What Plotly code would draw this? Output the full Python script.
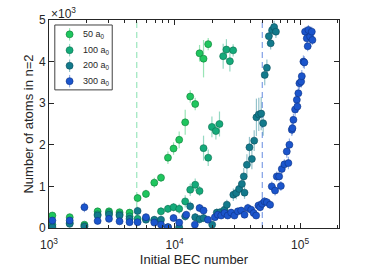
import plotly.graph_objects as go

# ---------------- data (values in units of 10^3 atoms) ----------------
n50 = [1064, 1462, 1915, 2439, 3005, 3648, 4383, 5078, 5919, 6897, 7799, 8860, 9818,
       10890, 12160, 13330, 14610, 15820, 17020, 18540]
v50 = [0.30, 0.26, 0.08, 0.40, 0.40, 0.38, 0.37, 0.72, 0.82, 1.09, 1.21, 1.69, 1.91,
       2.12, 2.54, 3.16, 2.98, 4.20, 4.07, 4.42]
e50 = [0.08, 0.08, 0.06, 0.08, 0.08, 0.08, 0.08, 0.10, 0.10, 0.12, 0.10, 0.15, 0.15,
       0.20, 0.30, 0.15, 0.15, 0.20, 0.45, 0.15]

n100 = [1064, 1462, 1915, 2439, 3005, 3648, 4383, 5078, 5919, 6897, 7799, 8860, 9818,
        10890, 12160, 13330, 14610, 15820, 17020, 18540, 19850, 21350, 22800, 24400,
        25900, 27600, 29300]
v100 = [0.08, 0.12, 0.05, 0.33, 0.36, 0.33, 0.28, 0.22, 0.22, 0.18, 0.40, 0.46, 0.50,
        0.46, 0.64, 0.92, 1.04, 0.89, 1.92, 1.69, 2.43, 2.33, 2.50, 4.13, 4.29, 4.01, 4.27]
e100 = [0.06, 0.08, 0.05, 0.08, 0.08, 0.08, 0.08, 0.08, 0.08, 0.08, 0.10, 0.10, 0.10,
        0.12, 0.15, 0.15, 0.15, 0.12, 0.30, 0.20, 0.25, 0.20, 0.30, 0.30, 0.25, 0.25, 0.15]

n200 = [1064, 1462, 1915, 2439, 3005, 3648, 4383, 5078, 5919, 6897, 7799, 8860, 10890,
        12160, 13330, 14610, 15820, 17020, 19950, 21700, 23100, 25000, 26100, 29400,
        31000, 32700, 34400, 35600, 36100, 37700, 39500, 41300, 43100, 44900, 46900,
        49000, 50800, 52300, 54400, 56400, 58300, 59900, 62100, 64200]
v200 = [0.02, 0.10, 0.03, 0.30, 0.32, 0.30, 0.22, 0.41, 0.20, 0.20, 0.20, 0.02, 0.02,
        0.28, 0.52, 0.26, 0.21, 0.24, 0.08, 0.37, 0.38, 0.44, 0.56, 0.80, 0.84, 0.94,
        1.06, 1.24, 0.85, 1.52, 1.94, 1.66, 2.10, 2.66, 2.73, 2.75, 2.52, 3.68, 3.85,
        4.61, 4.44, 4.76, 4.83, 4.72]
e200 = [0.05, 0.08, 0.05, 0.08, 0.08, 0.08, 0.08, 0.10, 0.08, 0.08, 0.08, 0.05, 0.05,
        0.10, 0.12, 0.10, 0.10, 0.10, 0.08, 0.10, 0.10, 0.10, 0.12, 0.15, 0.15, 0.15,
        0.20, 0.20, 0.15, 0.25, 0.25, 0.25, 0.25, 0.45, 0.40, 0.40, 0.30, 0.25, 0.20,
        0.15, 0.15, 0.15, 0.15, 0.15]

n300 = [1064, 1462, 1915, 2439, 3005, 3648, 4383, 5078, 5919, 6897, 7799, 8860, 9818,
        10890, 12390, 14520, 15820, 17020, 18450, 20950, 22130, 23530, 25000, 26500,
        28250, 30000, 31920, 33950, 36080, 38380, 40780, 42660, 44660, 46580, 48050,
        49850, 52050, 54370, 57700, 59520, 63230, 65250, 68100, 70270, 71500, 75000,
        78340, 80700, 82200, 85960, 86900, 88500, 91300, 94200, 95200, 96900, 98800,
        101900, 103200, 106300, 108200, 109600, 113100, 115000, 116500, 120200,
        124000, 125400]
v300 = [0.18, 0.18, 0.50, 0.17, 0.22, 0.16, 0.14, 0.14, 0.26, 0.13, 0.08, 0.02, 0.24,
        0.13, 0.32, 0.08, 0.48, 0.42, 0.20, 0.26, 0.32, 0.30, 0.36, 0.30, 0.37, 0.30,
        0.40, 0.42, 0.32, 0.48, 0.44, 0.36, 0.30, 0.54, 0.50, 0.58, 0.64, 0.62, 0.56,
        1.00, 0.90, 1.24, 1.24, 1.01, 1.42, 1.53, 1.84, 1.56, 2.00, 2.36, 2.40, 2.60,
        2.85, 3.08, 2.92, 3.24, 3.48, 3.52, 3.65, 4.00, 3.98, 4.72, 4.56, 4.37, 4.76,
        4.60, 4.72, 4.52]
e300 = [0.08, 0.08, 0.12, 0.08, 0.08, 0.08, 0.08, 0.08, 0.08, 0.08, 0.08, 0.05, 0.08,
        0.08, 0.08, 0.08, 0.10, 0.08, 0.08, 0.08, 0.08, 0.08, 0.08, 0.08, 0.08, 0.08,
        0.08, 0.08, 0.08, 0.10, 0.08, 0.08, 0.08, 0.10, 0.10, 0.10, 0.10, 0.10, 0.10,
        0.12, 0.12, 0.12, 0.12, 0.12, 0.12, 0.12, 0.15, 0.15, 0.15, 0.15, 0.15, 0.15,
        0.15, 0.15, 0.15, 0.15, 0.15, 0.15, 0.15, 0.15, 0.15, 0.12, 0.12, 0.12, 0.12,
        0.12, 0.12, 0.12]

names = ["50 a<sub>0</sub>", "100 a<sub>0</sub>", "200 a<sub>0</sub>", "300 a<sub>0</sub>"]
thresholds = [5000, 50000]
xtick_vals = [1e3, 1e4, 1e5]
xtick_text = ["10<sup>3</sup>", "10<sup>4</sup>", "10<sup>5</sup>"]
xminor_vals = [2000, 3000, 4000, 5000, 6000, 7000, 8000, 9000,
               20000, 30000, 40000, 50000, 60000, 70000, 80000, 90000, 200000]
ytick_vals = [0, 1, 2, 3, 4, 5]

fill = ["#1fc65e", "#14aa7a", "#137a8c", "#1b55cc"]
edge = ["#0d7a38", "#0b6e4e", "#0b4f5c", "#0e3385"]
errc = ["rgba(31,198,94,0.45)", "rgba(20,170,122,0.45)",
        "rgba(19,122,140,0.45)", "rgba(27,85,204,0.45)"]
dashc = ["#9be6bd", "#7f9fe6"]
axcol = "#262626"

# legend layout (fractions of the plot area)
leg_box = (0.02, 0.664, 0.218, 0.976)
leg_marker_x = 0.071
leg_text_x = 0.112
leg_rows = [0.931, 0.855, 0.780, 0.706]

fig = go.Figure()

for xv, c in zip(thresholds, dashc):
    fig.add_trace(go.Scatter(x=[xv, xv], y=[0, 5], mode="lines",
                             line=dict(color=c, width=1.2, dash="6px,4px"),
                             showlegend=False, hoverinfo="skip"))

series = [(n50, v50, e50), (n100, v100, e100), (n200, v200, e200), (n300, v300, e300)]
for i, (xs, ys, es) in enumerate(series):
    fig.add_trace(go.Scatter(
        x=xs, y=ys, mode="markers", name=names[i], showlegend=False,
        marker=dict(size=7, color=fill[i], line=dict(color=edge[i], width=0.6)),
        error_y=dict(type="data", array=es, visible=True, color=errc[i],
                     thickness=1.2, width=0),
    ))

# manual legend markers on an overlay axis spanning the plot area
for i in range(4):
    fig.add_trace(go.Scatter(
        x=[leg_marker_x], y=[leg_rows[i]], mode="markers", xaxis="x2", yaxis="y2",
        showlegend=False, hoverinfo="skip",
        marker=dict(size=7, color=fill[i], line=dict(color=edge[i], width=0.6)),
        error_y=dict(type="constant", value=0.03, visible=True, color=errc[i],
                     thickness=1.2, width=0),
    ))

annotations = [dict(text="\u00d710<sup>3</sup>", xref="paper", yref="paper",
                    x=0, y=1, xanchor="left", yanchor="bottom", showarrow=False,
                    font=dict(size=12, color=axcol), yshift=-3)]
for i in range(4):
    annotations.append(dict(text=names[i], xref="x2", yref="y2", x=leg_text_x,
                            y=leg_rows[i], xanchor="left", yanchor="middle",
                            showarrow=False, font=dict(size=9, color=axcol)))

fig.update_layout(
    width=374, height=267,
    margin=dict(l=49, r=35, t=20, b=39),
    paper_bgcolor="white", plot_bgcolor="white",
    font=dict(family="Liberation Sans, Arial, sans-serif", size=12, color=axcol),
    showlegend=False,
    xaxis=dict(type="log", range=[3, 5.31], tickvals=xtick_vals, ticktext=xtick_text,
               ticks="inside", ticklen=5, tickcolor=axcol, showline=True,
               linecolor=axcol, linewidth=1, mirror="ticks", showgrid=False,
               zeroline=False, ticklabelstandoff=6, automargin=False,
               minor=dict(ticks="inside", ticklen=3, tickcolor=axcol, showgrid=False,
                          tickmode="array", tickvals=xminor_vals),
               title=dict(text="Initial BEC number", font=dict(size=13), standoff=3)),
    yaxis=dict(range=[0, 5], tickvals=ytick_vals, ticks="inside", ticklen=5,
               tickcolor=axcol, showline=True, linecolor=axcol, linewidth=1,
               mirror="ticks", showgrid=False, zeroline=False, automargin=False,
               title=dict(text="Number of atoms in n=2", font=dict(size=13), standoff=2)),
    xaxis2=dict(overlaying="x", range=[0, 1], visible=False, fixedrange=True),
    yaxis2=dict(overlaying="y", range=[0, 1], visible=False, fixedrange=True),
    shapes=[dict(type="rect", xref="x2", yref="y2", x0=leg_box[0], y0=leg_box[1],
                 x1=leg_box[2], y1=leg_box[3], fillcolor="white",
                 line=dict(color="#404040", width=1), layer="below")],
    annotations=annotations,
)

fig.write_html("out.html", config={"displayModeBar": False},
               post_script="document.body.style.margin='0';")
